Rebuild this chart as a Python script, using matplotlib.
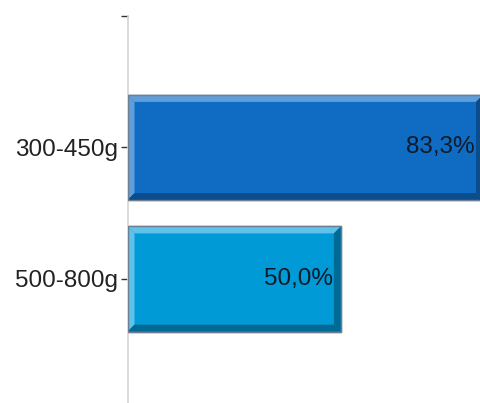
import matplotlib
matplotlib.use("agg")
import matplotlib.pyplot as plt
from matplotlib.patches import Polygon

categories = ['300-450g', '500-800g']
values = [83.3, 50.0]
value_labels = ['83,3%', '50,0%']
face_colors = ['#106cc3', '#009ad6']
light_colors = ['#609ddb', '#5ec2ea']
dark_colors = ['#0b4d8c', '#006a96']

plt.rcParams['font.family'] = ['Liberation Sans', 'DejaVu Sans']

W, H = 480, 403
fig = plt.figure(figsize=(W / 100, H / 100), dpi=100)
left_px, top_px = 127.5, 16
ax = fig.add_axes([left_px / W, 0, (W - left_px) / W, (H - top_px) / H])

xmax = 82.6
ymin, ymax = -1, 1.943
ax.set_xlim(0, xmax)
ax.set_ylim(ymax, ymin)

pos = list(range(len(categories)))
bar_h = 0.8
ax.barh(pos, values, height=bar_h, color=face_colors,
        edgecolor='#6d7f91', linewidth=1, zorder=2)

# pixel -> data conversion for the bevel strips
ppx = (W - left_px) / xmax
ppy = (H - top_px) / (ymax - ymin)
bx = 7 / ppx
by = 7 / ppy
for p, v, lc, dc in zip(pos, values, light_colors, dark_colors):
    yt = p - bar_h / 2
    yb = p + bar_h / 2
    light = [
        [(0, yt), (v, yt), (v - bx, yt + by), (bx, yt + by)],
        [(0, yt), (bx, yt + by), (bx, yb - by), (0, yb)],
    ]
    dark = [
        [(0, yb), (bx, yb - by), (v - bx, yb - by), (v, yb)],
        [(v, yt), (v, yb), (v - bx, yb - by), (v - bx, yt + by)],
    ]
    for poly in light:
        ax.add_patch(Polygon(poly, closed=True, facecolor=lc, edgecolor='none', zorder=3))
    for poly in dark:
        ax.add_patch(Polygon(poly, closed=True, facecolor=dc, edgecolor='none', zorder=3))
    ax.add_patch(plt.Rectangle((0, yt), v, bar_h, fill=False,
                               edgecolor='#6d7f91', linewidth=1, zorder=4))

for p, v, lab in zip(pos, values, value_labels):
    ax.text(v - 8 / ppx, p, lab, ha='right', va='center',
            fontsize=17.5, color='#0d1b2a', zorder=5)

ax.set_yticks([-1] + pos)
ax.set_yticklabels([''] + categories, fontsize=17.5, color='#222222')
ax.tick_params(axis='y', length=5, width=1, color='#333333', pad=2)
ax.set_xticks([])
for s in ['top', 'right', 'bottom']:
    ax.spines[s].set_visible(False)
ax.spines['left'].set_color('#d4d4d4')
ax.spines['left'].set_linewidth(1.2)

fig.savefig("out.png", dpi=100)
